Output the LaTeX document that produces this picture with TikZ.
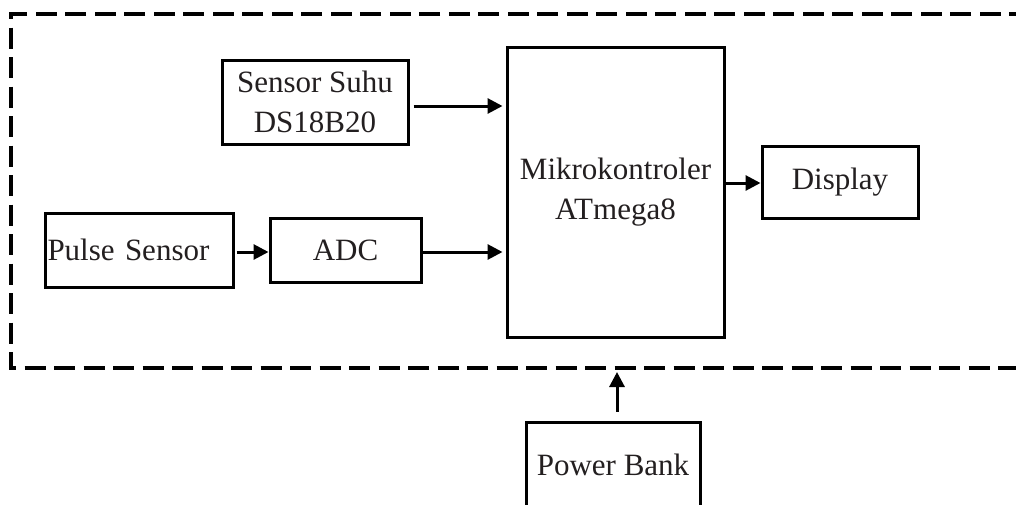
\documentclass[tikz,border=0pt]{standalone}
\usepackage{fontspec}
\setmainfont{Liberation Serif}
\usetikzlibrary{arrows.meta}
\definecolor{txt}{HTML}{231F20}
\begin{document}
\begin{tikzpicture}[x=1pt,y=-1pt,
  blk/.style={draw=black, line width=3pt, rectangle, inner sep=0pt, text=txt,
    font=\fontsize{31}{40}\selectfont, align=center},
  arr/.style={line width=3pt, -{Triangle[length=15pt,width=15pt]}},
  bord/.style={line width=3.2pt, dash pattern=on 21pt off 8.5pt}]
\useasboundingbox (0,0) rectangle (1016,504);
\clip (0,0) rectangle (1016,504);
\fill[white] (0,0) rectangle (1016,504);
% dashed border
\coordinate (tr) at (1030,14);
\coordinate (tl) at (11,14);
\coordinate (bl) at (11,368);
\coordinate (br) at (1030,368);
\draw[bord] (tr) -- (tl) -- (bl) -- (br);
% blocks
\node[blk, minimum width=186pt, minimum height=84pt] (suhu) at (315,102) {Sensor Suhu\\DS18B20};
\node[blk, minimum width=217pt, minimum height=290pt] (mcu) at (615.5,192) {Mikrokontroler\\ATmega8};
\node[blk, minimum width=156pt, minimum height=72pt] (disp) at (840,182) {Display};
\node[blk, minimum width=188pt, minimum height=74pt, text width=183pt, align=left, inner xsep=2.5pt] (pulse) at (139,250) {Pulse Sensor};
\node[blk, minimum width=151pt, minimum height=64pt] (adc) at (345.5,250) {ADC};
\node[blk, minimum width=174pt, minimum height=86pt] (power) at (613,465) {Power Bank};
\coordinate (bnd) at (617,368);
% connectors
\draw[arr, shorten <=4pt, shorten >=3pt] (suhu.east |- 0,106) -- (mcu.west |- 0,106);
\draw[arr, shorten <=2pt, shorten >=0pt] (pulse.east |- 0,252) -- (adc.west |- 0,252);
\draw[arr, shorten >=3pt] (adc.east |- 0,252) -- (mcu.west |- 0,252);
\draw[arr, shorten >=0pt] (mcu.east |- 0,183) -- (disp.west |- 0,183);
\draw[arr, shorten <=9pt, shorten >=4pt] (power.north -| bnd) -- (bnd);
\end{tikzpicture}
\end{document}
